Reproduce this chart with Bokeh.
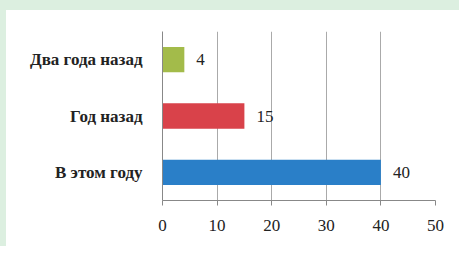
from bokeh.plotting import figure
from bokeh.models import ColumnDataSource, FixedTicker, Range1d, LabelSet
from bokeh.embed import file_html
from bokeh.resources import INLINE

categories = ["В этом году", "Год назад", "Два года назад"]
values = [40, 15, 4]
colors = ["#2a7fc8", "#d9424a", "#a3bb4a"]
x_ticks = [0, 10, 20, 30, 40, 50]

SERIF = "'Liberation Serif', 'Times New Roman', serif"

src = ColumnDataSource(dict(cat=categories, val=values, col=colors,
                            lbl=[str(v) for v in values]))

p = figure(y_range=categories, x_range=Range1d(0, 50), width=459, height=246,
           output_backend="svg", toolbar_location=None,
           min_border_left=156, min_border_right=30, min_border_top=21, min_border_bottom=56,
           border_fill_color="white", background_fill_color="white", outline_line_color=None,
           styles={"position": "absolute", "left": "0px", "top": "0px",
                   "border-top": "10px solid #dcefe0", "border-left": "6px solid #dcefe0"})

p.hbar(y="cat", right="val", left=0, height=0.45, color="col", source=src, line_color=None)

labels = LabelSet(x="val", y="cat", text="lbl", source=src, x_offset=12, y_offset=0,
                  text_baseline="middle", text_font=SERIF, text_font_size="17px",
                  text_color="#222222")
p.add_layout(labels)

p.xaxis.ticker = FixedTicker(ticks=x_ticks)
p.xaxis.major_label_text_font = SERIF
p.xaxis.major_label_text_font_size = "17px"
p.xaxis.major_label_text_color = "#222222"
p.xaxis.major_label_standoff = 14
p.xaxis.axis_line_color = "#888888"
p.xaxis.major_tick_line_color = "#888888"
p.xaxis.major_tick_in = 0
p.xaxis.major_tick_out = 5
p.xaxis.minor_tick_line_color = None

p.yaxis.major_label_text_font = SERIF
p.yaxis.major_label_text_font_size = "17px"
p.yaxis.major_label_text_font_style = "bold"
p.yaxis.major_label_text_color = "#222222"
p.yaxis.major_label_standoff = 14
p.yaxis.axis_line_color = "#888888"
p.yaxis.major_tick_line_color = None
p.yaxis.minor_tick_line_color = None

p.xgrid.grid_line_color = "#aaaaaa"
p.xgrid.ticker = FixedTicker(ticks=x_ticks)
p.ygrid.grid_line_color = None

open("out.html", "w").write(file_html(p, INLINE))
